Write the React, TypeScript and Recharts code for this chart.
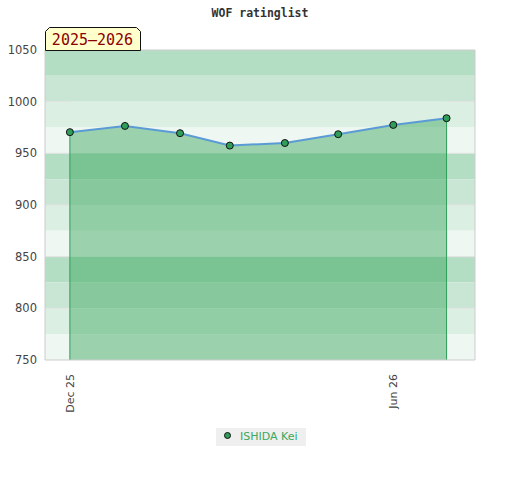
import {
  ComposedChart,
  Area,
  Line,
  XAxis,
  YAxis,
  ReferenceArea,
  ReferenceLine,
} from "recharts";

const DATES = [
  "2025-12-01", "2026-01-01", "2026-02-01", "2026-03-01",
  "2026-04-01", "2026-05-01", "2026-06-01", "2026-07-01",
];
const RATINGS = [970.5, 976.5, 969.5, 957.5, 960, 968.5, 977.5, 984];

const TICK_DATES = ["2025-12-01", "2026-06-01"];
const TICK_LABELS = ["Dec 25", "Jun 26"];
const X_DOMAIN = [-14, 228];

const Y_MAJOR = [750, 800, 850, 900, 950, 1000, 1050];
const Y_MINOR = [
  750, 760, 770, 780, 790, 800, 810, 820, 830, 840, 850, 860, 870, 880, 890,
  900, 910, 920, 930, 940, 950, 960, 970, 980, 990, 1000, 1010, 1020, 1030, 1040, 1050,
];
const BAND_TOPS = [1050, 1025, 1000, 975, 950, 925, 900, 875, 850, 825, 800, 775];

const SEASON = "2025–2026";
const PLAYER = "ISHIDA Kei";
const TITLE = "WOF ratinglist";

// top to bottom inside every 100-point block
const BAND_SHADES = ["#b3dec3", "#c9e6d4", "#dcefe3", "#eef7f1"];
const GREEN = "#2f9e5a";
const LABEL_COLOR = "#444";

const DAY = 86400000;
const T0 = Date.parse(DATES[0]);
const toDay = (d: string) => Math.round((Date.parse(d) - T0) / DAY);

const data = DATES.map((d, i) => ({ day: toDay(d), rating: RATINGS[i] }));
const tickDays = TICK_DATES.map(toDay);
const first = data[0];
const last = data[data.length - 1];

function XTick(props: any) {
  const { x, y, payload } = props;
  const i = tickDays.indexOf(payload.value);
  return (
    <text
      transform={`translate(${x},${y + 12}) rotate(-90)`}
      textAnchor="end"
      dy="0.35em"
      fill={LABEL_COLOR}
      fontSize={11}
      fontFamily="DejaVu Sans"
    >
      {TICK_LABELS[i]}
    </text>
  );
}

// tick marks every 10 come from the axis itself, labels only every 50
function RightTick(props: any) {
  const { x, y, payload } = props;
  if (payload.value % 50 !== 0) return <g />;
  return (
    <text
      x={x}
      y={y}
      dy="0.35em"
      textAnchor="start"
      fill={LABEL_COLOR}
      fontSize={11.5}
      fontFamily="DejaVu Sans"
    >
      {payload.value}
    </text>
  );
}

export default function App() {
  return (
    <div style={{ position: "absolute", left: 0, top: 0, width: 520, height: 480, background: "#fff" }}>
      <ComposedChart
        width={520}
        height={480}
        data={data}
        margin={{ top: 50, right: 0, bottom: 0, left: 0 }}
      >
        {BAND_TOPS.map((top, i) => (
          <ReferenceArea
            key={top}
            yAxisId="left"
            y1={top - 25}
            y2={top}
            fill={BAND_SHADES[i % 4]}
            fillOpacity={1}
            stroke="none"
          />
        ))}
        {/* 50-point rules, only where the area does not cover them */}
        {Y_MAJOR.filter((v) => v > 750 && v < 1050).map((v) => (
          <ReferenceLine
            key={`l${v}`}
            yAxisId="left"
            segment={[{ x: X_DOMAIN[0], y: v }, { x: first.day, y: v }]}
            stroke="#e2e2e2"
            strokeWidth={1}
          />
        ))}
        {Y_MAJOR.filter((v) => v > 750 && v < 1050).map((v) => (
          <ReferenceLine
            key={`r${v}`}
            yAxisId="left"
            segment={[{ x: last.day, y: v }, { x: X_DOMAIN[1], y: v }]}
            stroke="#e2e2e2"
            strokeWidth={1}
          />
        ))}
        <ReferenceLine yAxisId="left" y={1050} stroke="#ccc" strokeWidth={1} />
        <XAxis
          dataKey="day"
          type="number"
          domain={X_DOMAIN}
          ticks={tickDays}
          interval={0}
          tick={<XTick />}
          tickLine={false}
          tickSize={0}
          height={120}
          axisLine={{ stroke: "#ccc" }}
        />
        <YAxis
          yAxisId="left"
          domain={[750, 1050]}
          ticks={Y_MAJOR}
          interval={0}
          width={45}
          tickLine={false}
          tickSize={0}
          tickMargin={8}
          axisLine={{ stroke: "#ccc" }}
          tick={{ fill: LABEL_COLOR, fontSize: 11.5, fontFamily: "DejaVu Sans" }}
        />
        <YAxis
          yAxisId="right"
          orientation="right"
          domain={[750, 1050]}
          ticks={Y_MINOR}
          interval={0}
          width={45}
          tickLine={{ stroke: "#222", strokeWidth: 1 }}
          tickSize={4}
          tickMargin={3}
          axisLine={{ stroke: "#ccc" }}
          tick={<RightTick />}
        />
        <Area
          yAxisId="left"
          dataKey="rating"
          type="linear"
          stroke="none"
          fill="#31a556"
          fillOpacity={0.44}
          baseValue={750}
          isAnimationActive={false}
        />
        <ReferenceLine
          yAxisId="left"
          segment={[{ x: first.day, y: 750 }, { x: first.day, y: first.rating }]}
          stroke={GREEN}
          strokeWidth={1}
        />
        <ReferenceLine
          yAxisId="left"
          segment={[{ x: last.day, y: 750 }, { x: last.day, y: last.rating }]}
          stroke={GREEN}
          strokeWidth={1}
        />
        <Line
          yAxisId="left"
          dataKey="rating"
          type="linear"
          stroke="#5b9bd5"
          strokeWidth={2}
          dot={{ r: 3.5, fill: GREEN, stroke: "#111", strokeWidth: 1 }}
          activeDot={false}
          isAnimationActive={false}
        />
      </ComposedChart>
      <svg
        width={520}
        height={480}
        style={{ position: "absolute", left: 0, top: 0, pointerEvents: "none" }}
      >
        <text
          x={260}
          y={17}
          textAnchor="middle"
          fontFamily="DejaVu Sans Mono"
          fontWeight="bold"
          fontSize={11.5}
          fill="#333"
        >
          {TITLE}
        </text>
        <polygon
          points="45.5,50.5 45.5,31.5 49.5,27.5 136.5,27.5 140.5,31.5 140.5,50.5"
          fill="#ffffcc"
          stroke="#111"
          strokeWidth={1}
        />
        <text
          x={92.5}
          y={45}
          textAnchor="middle"
          fontFamily="DejaVu Sans Mono"
          fontSize={15}
          fill="#8b0000"
        >
          {SEASON}
        </text>
      </svg>
      <div
        style={{
          position: "absolute",
          left: 216,
          top: 428,
          width: 90,
          height: 18,
          background: "#efefef",
          display: "flex",
          alignItems: "center",
          fontFamily: "DejaVu Sans",
          fontSize: 11,
          color: "#3aa860",
        }}
      >
        <svg width={24} height={18} style={{ flex: "none" }}>
          <circle cx={11.5} cy={7.5} r={3} fill={GREEN} stroke="#111" strokeWidth={1} />
        </svg>
        <span style={{ marginTop: -1 }}>{PLAYER}</span>
      </div>
    </div>
  );
}
